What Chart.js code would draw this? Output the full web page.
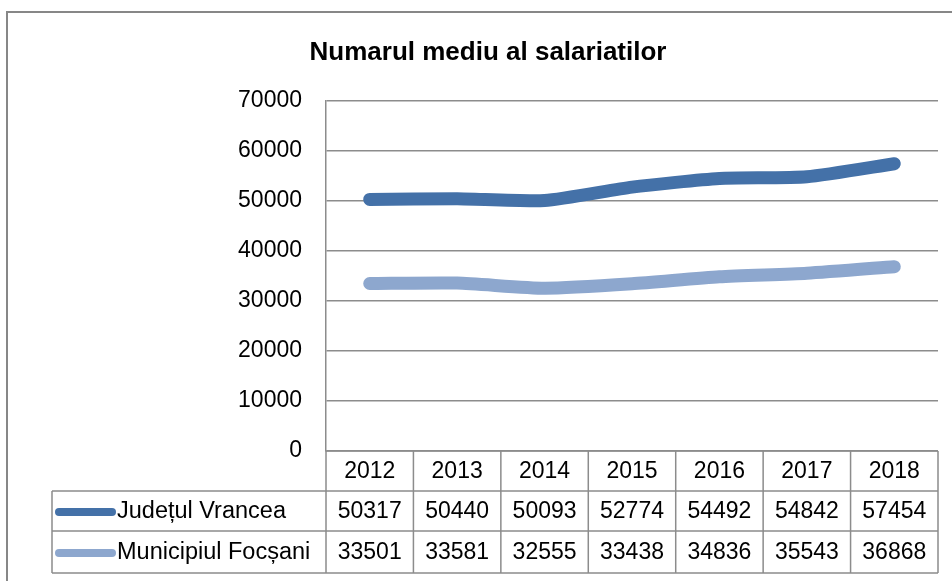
<!DOCTYPE html>
<html>
<head>
<meta charset="utf-8">
<script src="https://cdn.jsdelivr.net/npm/chart.js@4/dist/chart.umd.min.js"></script>
<style>
  html, body { margin: 0; padding: 0; background: #fff; }
  #wrap { width: 952px; height: 581px; position: relative; }
</style>
</head>
<body>
<div id="wrap"><canvas id="grafic" width="952" height="581"></canvas></div>
<script>
// date
const ani = ['2012', '2013', '2014', '2015', '2016', '2017', '2018'];
const judetulVrancea = [50317, 50440, 50093, 52774, 54492, 54842, 57454];
const municipiulFocsani = [33501, 33581, 32555, 33438, 34836, 35543, 36868];
const serii = ['Județul Vrancea', 'Municipiul Focșani'];
const titlu = 'Numarul mediu al salariatilor';

const culoareInchis = '#4471a8';
const culoareDeschis = '#8da7ce';
const culoareGrila = '#8c8c8c';
const font = '"Liberation Sans", Arial, sans-serif';

// chenarul exterior, titlul si tabelul de date de sub grafic
const tabelDate = {
    id: 'tabelDate',
    afterDraw(chart) {
        const ctx = chart.ctx;
        const area = chart.chartArea;
        const xs = chart.scales.x;

        ctx.save();

        // chenar
        ctx.strokeStyle = '#878787';
        ctx.lineWidth = 2;
        ctx.beginPath();
        ctx.moveTo(7, 581);
        ctx.lineTo(7, 12);
        ctx.lineTo(952, 12);
        ctx.stroke();

        // titlu
        ctx.fillStyle = '#000';
        ctx.font = 'bold 26px ' + font;
        ctx.textAlign = 'center';
        ctx.textBaseline = 'middle';
        ctx.fillText(titlu, 488, 53);

        // coloane
        const centre = ani.map((a, i) => xs.getPixelForTick(i));
        const pas = centre[1] - centre[0];
        const margini = [area.left].concat(centre.map(c => c + pas / 2));
        const stangaLegenda = 52;
        const randuri = [area.bottom, area.bottom + 40, area.bottom + 80, area.bottom + 122];

        ctx.strokeStyle = culoareGrila;
        ctx.lineWidth = 1.5;
        ctx.beginPath();
        // linii orizontale
        ctx.moveTo(area.left, randuri[0]);
        ctx.lineTo(margini[margini.length - 1], randuri[0]);
        for (let r = 1; r < randuri.length; r++) {
            ctx.moveTo(stangaLegenda, randuri[r]);
            ctx.lineTo(margini[margini.length - 1], randuri[r]);
        }
        // linii verticale
        margini.forEach(x => {
            ctx.moveTo(x, randuri[0]);
            ctx.lineTo(x, randuri[3]);
        });
        ctx.moveTo(stangaLegenda, randuri[1]);
        ctx.lineTo(stangaLegenda, randuri[3]);
        ctx.stroke();

        // antet
        ctx.font = '23px ' + font;
        ctx.fillStyle = '#000';
        ctx.textAlign = 'center';
        ani.forEach((a, i) => {
            ctx.fillText(a, centre[i], (randuri[0] + randuri[1]) / 2 + 1);
        });

        // randuri de date
        chart.data.datasets.forEach((ds, r) => {
            const yMij = (randuri[r + 1] + randuri[r + 2]) / 2 + 1;
            ctx.strokeStyle = ds.borderColor;
            ctx.lineWidth = 8;
            ctx.lineCap = 'round';
            ctx.beginPath();
            ctx.moveTo(59, yMij);
            ctx.lineTo(112, yMij);
            ctx.stroke();

            ctx.font = '23.5px ' + font;
            ctx.textAlign = 'left';
            ctx.fillText(ds.label, 117, yMij);
            ctx.font = '23px ' + font;
            ctx.textAlign = 'center';
            ds.data.forEach((v, i) => {
                ctx.fillText(String(v), centre[i], yMij);
            });
        });

        ctx.restore();
    }
};

const ctx = document.getElementById('grafic').getContext('2d');
const grafic = new Chart(ctx, {
    type: 'line',
    data: {
        labels: ani,
        datasets: [
            {
                label: serii[0],
                data: judetulVrancea,
                borderColor: culoareInchis,
                backgroundColor: culoareInchis,
                borderWidth: 13,
                borderCapStyle: 'round',
                borderJoinStyle: 'round',
                pointRadius: 0,
                tension: 0.2
            },
            {
                label: serii[1],
                data: municipiulFocsani,
                borderColor: culoareDeschis,
                backgroundColor: culoareDeschis,
                borderWidth: 13,
                borderCapStyle: 'round',
                borderJoinStyle: 'round',
                pointRadius: 0,
                tension: 0.2
            }
        ]
    },
    options: {
        responsive: false,
        animation: false,
        layout: {
            padding: { left: 20, right: 14, top: 101, bottom: 130 }
        },
        plugins: {
            legend: { display: false },
            title: { display: false },
            tooltip: { enabled: false }
        },
        scales: {
            x: {
                offset: true,
                ticks: { display: false },
                grid: { display: false, drawTicks: false },
                border: { display: false }
            },
            y: {
                min: 0,
                max: 70000,
                ticks: {
                    stepSize: 10000,
                    padding: 24,
                    color: '#000',
                    font: { family: font, size: 23 },
                    callback: v => String(v)
                },
                grid: { color: culoareGrila, lineWidth: 1.5, drawTicks: false },
                border: { display: true, color: culoareGrila, width: 1.5 },
                afterFit(scale) {
                    scale.width = 306;
                }
            }
        }
    },
    plugins: [tabelDate]
});
</script>
</body>
</html>
